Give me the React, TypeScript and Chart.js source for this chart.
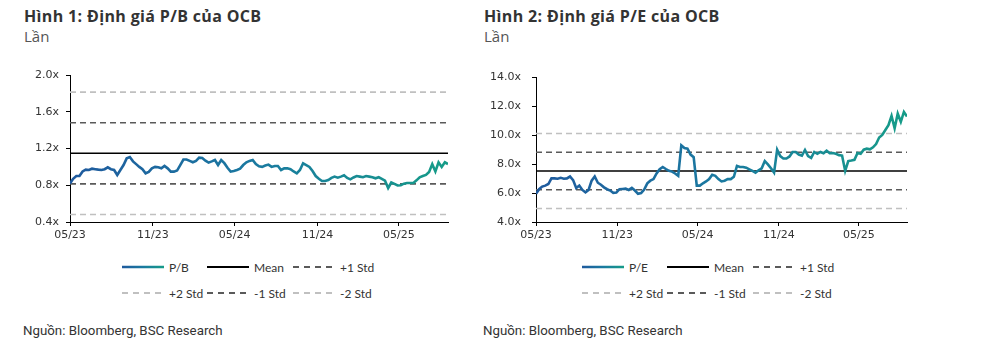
import React, { useEffect, useRef } from "react";
import { Chart, registerables } from "chart.js";

Chart.register(...registerables);

// ---------- data ----------
const stepDays = 7; // weekly observations starting 05/2023
const maxDay = 840;
const tickDays = [0, 184, 366, 550, 731];
const tickLabels = ["05/23", "11/23", "05/24", "11/24", "05/25"];

const pbValues = [
  0.82, 0.87, 0.9, 0.9, 0.95, 0.97, 0.966, 0.98, 0.975, 0.97,
  0.966, 0.975, 0.995, 0.975, 0.966, 0.912, 0.966, 1.02, 1.093, 1.107,
  1.06, 1.03, 1.0, 0.975, 0.93, 0.945, 0.984, 1.0, 0.995, 0.984,
  1.01, 0.984, 0.948, 0.948, 0.96, 1.02, 1.08, 1.08, 1.065, 1.05,
  1.065, 1.1, 1.097, 1.068, 1.046, 1.06, 1.075, 1.02, 1.075, 1.04,
  0.99, 0.948, 0.955, 0.966, 0.98, 1.02, 1.05, 1.065, 1.075, 1.03,
  1.006, 1.0, 1.015, 1.025, 1.0, 1.01, 1.01, 0.966, 0.984, 0.984,
  0.975, 0.95, 0.93, 0.966, 1.039, 1.02, 1.0, 0.955, 0.9, 0.87,
  0.846, 0.846, 0.857, 0.88, 0.894, 0.883, 0.894, 0.908, 0.88, 0.864,
  0.885, 0.9, 0.894, 0.887, 0.9, 0.894, 0.887, 0.876, 0.887, 0.87,
  0.85, 0.77, 0.83, 0.815, 0.797, 0.8, 0.817, 0.825, 0.825, 0.825,
  0.853, 0.887, 0.9, 0.912, 0.945, 1.03, 0.95, 1.05, 1.0, 1.05,
  1.03,
];

const peValues = [
  5.95, 6.27, 6.45, 6.52, 6.63, 7.02, 7.02, 7.0, 7.06, 7.0,
  7.02, 7.15, 6.9, 6.36, 6.52, 6.22, 6.06, 6.22, 6.86, 7.15,
  6.72, 6.58, 6.4, 6.27, 6.18, 6.02, 6.04, 6.27, 6.29, 6.31,
  6.22, 6.36, 6.18, 5.95, 6.0, 6.25, 6.68, 6.86, 6.97, 7.36,
  7.65, 7.81, 7.67, 7.54, 7.49, 7.36, 7.2, 9.31, 9.12, 9.08,
  8.67, 8.49, 6.52, 6.52, 6.68, 6.81, 6.97, 7.27, 7.2, 6.97,
  6.81, 6.86, 6.97, 6.97, 7.13, 7.88, 7.81, 7.81, 7.76, 7.65,
  7.54, 7.42, 7.58, 7.72, 8.22, 7.99, 7.72, 7.42, 9.01, 8.56,
  8.4, 8.4, 8.54, 8.85, 8.85, 8.67, 8.6, 8.99, 8.56, 8.44,
  8.85, 8.72, 8.85, 8.76, 8.94, 8.76, 8.78, 8.72, 8.63, 8.6,
  7.54, 8.22, 8.26, 8.31, 8.78, 8.72, 9.01, 9.08, 9.03, 9.17,
  9.4, 9.85, 10.03, 10.37, 10.71, 11.35, 10.49, 11.5, 10.94, 11.62,
  11.3,
];

const bandNames = ["Mean", "+1 Std", "+2 Std", "-1 Std", "-2 Std"];
const pbBands = [1.148, 1.481, 1.814, 0.815, 0.482];
const peBands = [7.53, 8.83, 10.13, 6.23, 4.93];

const pbTicks = [0.4, 0.8, 1.2, 1.6, 2.0];
const peTicks = [4, 6, 8, 10, 12, 14];

// ---------- styles ----------
const C_START = "#1f5a9e";
const C_MID = "#1a7aa0";
const C_END = "#169c88";
const bandStyle = [
  { color: "#000000", dash: [] as number[], width: 1.6 },
  { color: "#5a5a5a", dash: [6, 4], width: 1.6 },
  { color: "#c0c0c0", dash: [6, 4], width: 1.6 },
  { color: "#5a5a5a", dash: [6, 4], width: 1.6 },
  { color: "#c0c0c0", dash: [6, 4], width: 1.6 },
];

type ChartProps = {
  values: number[];
  bands: number[];
  yTicks: number[];
  seriesName: string;
  yAxisWidth: number;
  yPad: number;
  width: number;
  height: number;
};

function ValChart({ values, bands, yTicks, seriesName, yAxisWidth, yPad, width, height }: ChartProps) {
  const ref = useRef<HTMLCanvasElement | null>(null);
  useEffect(() => {
    if (!ref.current) return;
    const series = values.map((v, i) => ({ x: i * stepDays, y: v }));
    const datasets: any[] = [
      {
        label: seriesName,
        data: series,
        borderColor: (ctx: any) => {
          const { chart } = ctx;
          const area = chart.chartArea;
          if (!area) return C_START;
          const g = chart.ctx.createLinearGradient(area.left, 0, area.right, 0);
          g.addColorStop(0, C_START);
          g.addColorStop(0.5, C_MID);
          g.addColorStop(1, C_END);
          return g;
        },
        borderWidth: 2.6,
        pointRadius: 0,
        tension: 0,
      },
      ...bands.map((b, k) => ({
        label: bandNames[k],
        data: [
          { x: 0, y: b },
          { x: maxDay, y: b },
        ],
        borderColor: bandStyle[k].color,
        borderDash: bandStyle[k].dash,
        borderWidth: bandStyle[k].width,
        pointRadius: 0,
      })),
    ];
    const tickFont = { family: "'DejaVu Sans', Verdana, sans-serif", size: 11 };
    const chart = new Chart(ref.current, {
      type: "line",
      data: { datasets },
      options: {
        animation: false,
        responsive: false,
        devicePixelRatio: 1,
        layout: { padding: { top: 15, right: 12, left: 0, bottom: 0 } },
        plugins: { legend: { display: false }, tooltip: { enabled: false } },
        scales: {
          x: {
            type: "linear",
            min: 0,
            max: maxDay,
            afterBuildTicks: (s: any) => {
              s.ticks = tickDays.map((v) => ({ value: v }));
            },
            afterFit: (s: any) => {
              s.height = 23;
            },
            ticks: {
              autoSkip: false,
              maxRotation: 0,
              padding: 3,
              color: "#333",
              font: tickFont,
              callback: (v: any) => {
                const i = tickDays.indexOf(Number(v));
                return i >= 0 ? tickLabels[i] : "";
              },
            },
            grid: { display: true, drawOnChartArea: false, drawTicks: true, tickLength: 4, color: "#000" },
            border: { display: true, color: "#000", width: 1 },
          },
          y: {
            type: "linear",
            min: yTicks[0],
            max: yTicks[yTicks.length - 1],
            afterBuildTicks: (s: any) => {
              s.ticks = yTicks.map((v) => ({ value: v }));
            },
            afterFit: (s: any) => {
              s.width = yAxisWidth;
            },
            ticks: {
              padding: yPad,
              color: "#333",
              font: tickFont,
              callback: (v: any) => Number(v).toFixed(1) + "x",
            },
            grid: { display: true, drawOnChartArea: false, drawTicks: true, tickLength: 4, color: "#000" },
            border: { display: true, color: "#000", width: 1 },
          },
        },
      },
    });
    return () => chart.destroy();
  }, []);
  return <canvas ref={ref} width={width} height={height} style={{ display: "block" }} />;
}

const textFont = "'Open Sans', Lato, sans-serif";
const legendFont = "Lato, 'Open Sans', sans-serif";

function Sample({ kind, gid }: { kind: number; gid: string }) {
  if (kind < 0) {
    return (
      <svg width={42} height={6} style={{ display: "block" }}>
        <defs>
          <linearGradient id={gid} gradientUnits="userSpaceOnUse" x1="0" x2="42" y1="3" y2="3">
            <stop offset="0" stopColor={C_START} />
            <stop offset="0.5" stopColor={C_MID} />
            <stop offset="1" stopColor={C_END} />
          </linearGradient>
        </defs>
        <line x1={0} y1={3} x2={42} y2={3} stroke={`url(#${gid})`} strokeWidth={2.6} />
      </svg>
    );
  }
  const st = bandStyle[kind];
  return (
    <svg width={42} height={6} style={{ display: "block" }}>
      <line
        x1={0}
        y1={3}
        x2={42}
        y2={3}
        stroke={st.color}
        strokeWidth={2}
        strokeDasharray={st.dash.length ? "6 5" : undefined}
      />
    </svg>
  );
}

function Legend({ left, seriesName }: { left: number; seriesName: string }) {
  const items = [
    { kind: -1, label: seriesName, row: 0, col: 0 },
    { kind: 0, label: bandNames[0], row: 0, col: 1 },
    { kind: 1, label: bandNames[1], row: 0, col: 2 },
    { kind: 2, label: bandNames[2], row: 1, col: 0 },
    { kind: 3, label: bandNames[3], row: 1, col: 1 },
    { kind: 4, label: bandNames[4], row: 1, col: 2 },
  ];
  const colX = [0, 85, 171];
  const rowY = [267, 293];
  return (
    <>
      {items.map((it, i) => (
        <div
          key={i}
          style={{
            position: "absolute",
            left: left + colX[it.col],
            top: rowY[it.row] - 8,
            height: 16,
            display: "flex",
            alignItems: "center",
            gap: 5,
            fontFamily: legendFont,
            fontSize: 12,
            color: "#333",
            whiteSpace: "nowrap",
          }}
        >
          <Sample kind={it.kind} gid={"grad-" + seriesName.replace("/", "")} />
          <span>{it.label}</span>
        </div>
      ))}
    </>
  );
}

function Panel({ left, title, seriesName, values, bands, yTicks, yAxisWidth, yPad, width }: any) {
  return (
    <>
      <div
        style={{
          position: "absolute",
          left,
          top: 5,
          fontFamily: textFont,
          fontWeight: 700,
          fontSize: 16,
          letterSpacing: 0.35,
          color: "#333",
          whiteSpace: "nowrap",
        }}
      >
        {title}
      </div>
      <div
        style={{
          position: "absolute",
          left,
          top: 26,
          fontFamily: textFont,
          fontSize: 15,
          color: "#555",
        }}
      >
        Lần
      </div>
      <div style={{ position: "absolute", left, top: 60 }}>
        <ValChart
          values={values}
          bands={bands}
          yTicks={yTicks}
          seriesName={seriesName}
          yAxisWidth={yAxisWidth}
          yPad={yPad}
          width={width}
          height={185}
        />
      </div>
      <Legend left={left + 98} seriesName={seriesName} />
      <div
        style={{
          position: "absolute",
          left: left - 1,
          top: 323,
          fontFamily: "Roboto, sans-serif",
          fontSize: 13.3,
          color: "#333",
          whiteSpace: "nowrap",
        }}
      >
        Nguồn: Bloomberg, BSC Research
      </div>
    </>
  );
}

export default function App() {
  return (
    <div style={{ position: "absolute", left: 0, top: 0, width: 987, height: 353, background: "#fff", overflow: "hidden" }}>
      <Panel
        left={24}
        title="Hình 1: Định giá P/B của OCB"
        seriesName="P/B"
        values={pbValues}
        bands={pbBands}
        yTicks={pbTicks}
        yAxisWidth={46}
        yPad={7}
        width={436}
      />
      <Panel
        left={484}
        title="Hình 2: Định giá P/E của OCB"
        seriesName="P/E"
        values={peValues}
        bands={peBands}
        yTicks={peTicks}
        yAxisWidth={52}
        yPad={11}
        width={435}
      />
    </div>
  );
}
